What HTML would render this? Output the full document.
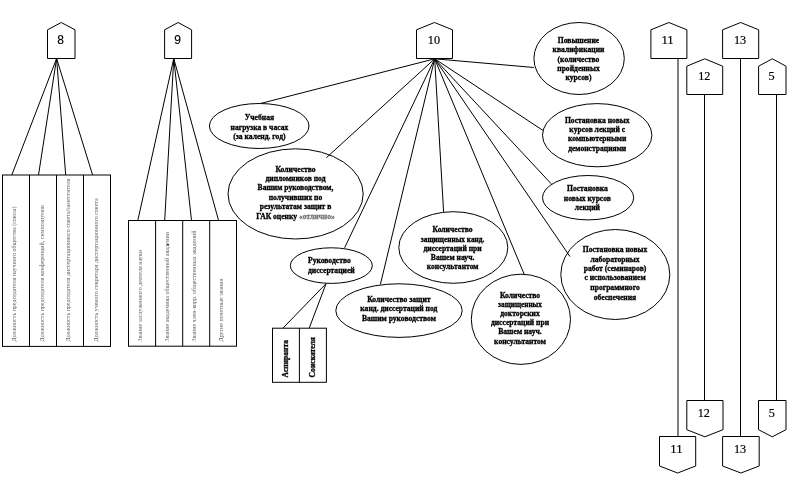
<!DOCTYPE html>
<html><head><meta charset="utf-8"><title>diagram</title>
<style>
html,body{margin:0;padding:0;background:#fff;}
body{width:791px;height:479px;overflow:hidden;}
svg{display:block;will-change:transform;}
.s{fill:#fff;stroke:#000;stroke-width:1;}
.l{stroke:#000;stroke-width:1;fill:none;}
.b{font-family:"Liberation Serif",serif;font-weight:bold;font-size:7.6px;fill:#000;stroke:#000;stroke-width:0.3px;text-anchor:middle;}
.bl{font-family:"Liberation Serif",serif;font-weight:bold;font-size:7.6px;fill:#000;stroke:#000;stroke-width:0.3px;text-anchor:start;}
.g{font-family:"Liberation Serif",serif;font-size:6px;fill:#666;}
.n{font-family:"Liberation Serif",serif;font-size:13.5px;fill:#000;stroke:#000;stroke-width:0.2px;text-anchor:middle;}
.a{font-family:"Liberation Sans",sans-serif;font-size:12px;fill:#000;stroke:#000;stroke-width:0.15px;text-anchor:middle;}
</style></head><body>
<svg width="791" height="479" viewBox="0 0 791 479">
<rect x="0" y="0" width="791" height="479" fill="#fff"/>
<ellipse class="s" cx="259.2" cy="126" rx="49.8" ry="22.5"/>
<ellipse class="s" cx="295.6" cy="193.9" rx="67.6" ry="45.1"/>
<ellipse class="s" cx="331.3" cy="265.6" rx="41" ry="17.8"/>
<ellipse class="s" cx="399" cy="310.6" rx="63.2" ry="26.8"/>
<ellipse class="s" cx="453.3" cy="247.5" rx="54.5" ry="35.8"/>
<ellipse class="s" cx="520.9" cy="319.3" rx="49.6" ry="45.1"/>
<ellipse class="s" cx="579.1" cy="58.5" rx="45.2" ry="36"/>
<ellipse class="s" cx="597.2" cy="135.2" rx="54.7" ry="31.6"/>
<ellipse class="s" cx="588.1" cy="197.7" rx="45.6" ry="22.2"/>
<ellipse class="s" cx="615.3" cy="274.5" rx="54.5" ry="45"/>
<line class="l" x1="56.6" y1="58.5" x2="11.8" y2="175"/>
<line class="l" x1="56.6" y1="58.5" x2="38.5" y2="175"/>
<line class="l" x1="56.6" y1="58.5" x2="65.7" y2="175"/>
<line class="l" x1="56.6" y1="58.5" x2="92.6" y2="175"/>
<line class="l" x1="173.75" y1="58.5" x2="137.8" y2="220.5"/>
<line class="l" x1="173.75" y1="58.5" x2="164.7" y2="220.5"/>
<line class="l" x1="173.75" y1="58.5" x2="191.5" y2="220.5"/>
<line class="l" x1="173.75" y1="58.5" x2="218.6" y2="220.5"/>
<line class="l" x1="434.7" y1="58.8" x2="260.5" y2="103.5"/>
<line class="l" x1="434.7" y1="58.8" x2="326.3" y2="157.8"/>
<line class="l" x1="434.7" y1="58.8" x2="344.6" y2="247.8"/>
<line class="l" x1="434.7" y1="58.8" x2="380.4" y2="284.4"/>
<line class="l" x1="434.7" y1="58.8" x2="443.6" y2="211.9"/>
<line class="l" x1="434.7" y1="58.8" x2="524.3" y2="274.6"/>
<line class="l" x1="434.7" y1="58.8" x2="533.9" y2="67.5"/>
<line class="l" x1="434.7" y1="58.8" x2="542.9" y2="130.4"/>
<line class="l" x1="434.7" y1="58.8" x2="551.2" y2="183.8"/>
<line class="l" x1="434.7" y1="58.8" x2="570" y2="256.6"/>
<line class="l" x1="326.1" y1="283.6" x2="282.9" y2="328.2"/>
<line class="l" x1="326.1" y1="283.6" x2="309.2" y2="328.2"/>
<line class="l" x1="678" y1="58.5" x2="678" y2="436.5"/>
<line class="l" x1="704.5" y1="94.5" x2="704.5" y2="400.5"/>
<line class="l" x1="740.5" y1="58.5" x2="740.5" y2="436.5"/>
<line class="l" x1="776.5" y1="94.5" x2="776.5" y2="400.5"/>
<polygon class="s" points="47.5,58.5 47.5,29.8 61.25,22.5 75,29.8 75,58.5"/>
<polygon class="s" points="164.6,58.5 164.6,29.8 178.1,22.5 191.6,29.8 191.6,58.5"/>
<polygon class="s" points="416.5,58.5 416.5,29.8 434.5,22.5 452.5,29.8 452.5,58.5"/>
<polygon class="s" points="650.9,58.5 650.9,29.8 668.9,22.5 686.9,29.8 686.9,58.5"/>
<polygon class="s" points="722.6,58.5 722.6,29.8 740.65,22.5 758.7,29.8 758.7,58.5"/>
<polygon class="s" points="686.8,94.5 686.8,66.2 704.75,58.8 722.7,66.2 722.7,94.5"/>
<polygon class="s" points="758.6,94.5 758.6,66.2 772.3,58.8 786,66.2 786,94.5"/>
<polygon class="s" points="686.8,400.5 723,400.5 723,429.7 704.9,436.8 686.8,429.7"/>
<polygon class="s" points="758.5,400.5 786,400.5 786,429.7 772.25,436.8 758.5,429.7"/>
<polygon class="s" points="659.5,436.5 695.7,436.5 695.7,466 677.6,473 659.5,466"/>
<polygon class="s" points="722.6,436.5 759.2,436.5 759.2,466 740.9,473 722.6,466"/>
<text class="a" x="60.6" y="43.8">8</text>
<text class="a" x="177.6" y="43.8">9</text>
<text class="n" x="433.9" y="43.8" textLength="12.2" lengthAdjust="spacingAndGlyphs">10</text>
<text class="n" x="667.5" y="43.8" textLength="12.2" lengthAdjust="spacingAndGlyphs">11</text>
<text class="n" x="740" y="43.8" textLength="12.2" lengthAdjust="spacingAndGlyphs">13</text>
<text class="n" x="704.3" y="79.7" textLength="12.2" lengthAdjust="spacingAndGlyphs">12</text>
<text class="n" x="771.6" y="79.7" textLength="6.1" lengthAdjust="spacingAndGlyphs">5</text>
<text class="n" x="703.8" y="416.8" textLength="12.2" lengthAdjust="spacingAndGlyphs">12</text>
<text class="n" x="771.7" y="416.8" textLength="6.1" lengthAdjust="spacingAndGlyphs">5</text>
<text class="n" x="676.4" y="452.8" textLength="12.2" lengthAdjust="spacingAndGlyphs">11</text>
<text class="n" x="740.1" y="452.8" textLength="12.2" lengthAdjust="spacingAndGlyphs">13</text>
<rect class="s" x="2.5" y="175" width="108.0" height="171.4"/>
<line class="l" x1="29.5" y1="175" x2="29.5" y2="346.4"/>
<line class="l" x1="56.5" y1="175" x2="56.5" y2="346.4"/>
<line class="l" x1="83.5" y1="175" x2="83.5" y2="346.4"/>
<rect class="s" x="128.5" y="220.5" width="108.0" height="125.7"/>
<line class="l" x1="155.6" y1="220.5" x2="155.6" y2="346.2"/>
<line class="l" x1="182.7" y1="220.5" x2="182.7" y2="346.2"/>
<line class="l" x1="209.7" y1="220.5" x2="209.7" y2="346.2"/>
<rect class="s" x="272.5" y="328.2" width="53.9" height="54.1"/>
<line class="l" x1="299.4" y1="328.2" x2="299.4" y2="382.3"/>
<text class="g" transform="translate(16.4,341.4) rotate(-90)">Должность председателя научного общества (союза)</text>
<text class="g" transform="translate(43.5,341.4) rotate(-90)">Должность председателя конференций, симпозиумов</text>
<text class="g" transform="translate(70.3,341.4) rotate(-90)">Должность председателя диссертационного совета/заместителя</text>
<text class="g" transform="translate(97.6,341.4) rotate(-90)">Должность ученого секретаря диссертационного совета</text>
<text class="g" transform="translate(142.1,341.4) rotate(-90)">Звание заслуженного деятеля науки</text>
<text class="g" transform="translate(169.1,341.4) rotate(-90)">Звание академика общественной академии</text>
<text class="g" transform="translate(196.4,341.4) rotate(-90)">Звание член-корр. общественных академий</text>
<text class="g" transform="translate(223.2,341.4) rotate(-90)">Другие почетные звания</text>
<rect x="167.3" y="243.9" width="1.3" height="1.3" fill="#000"/>
<text class="bl" transform="translate(288.3,377.4) rotate(-90)">Аспиранта</text>
<text class="bl" transform="translate(315.1,377.4) rotate(-90)">Соискателя</text>
<text class="b" x="259.4" y="120.0">Учебная</text>
<text class="b" x="259.4" y="129.6">нагрузка в часах</text>
<text class="b" x="259.4" y="138.6">(за календ. год)</text>
<text class="b" x="295.5" y="172.1">Количество</text>
<text class="b" x="295.5" y="181.1">дипломников под</text>
<text class="b" x="295.5" y="190.1">Вашим руководством,</text>
<text class="b" x="295.5" y="199.6">получивших по</text>
<text class="b" x="295.5" y="209.0">результатам защит в</text>
<text class="b" x="295.5" y="218.7">ГАК оценку <tspan fill="#777" stroke="#777">«отлично»</tspan></text>
<text class="bl" x="308" y="262.8">Руководство</text>
<text class="bl" x="308" y="272.5">диссертацией</text>
<text class="b" x="398.9" y="301.9">Количество защит</text>
<text class="b" x="398.9" y="311.2">канд. диссертаций под</text>
<text class="b" x="398.9" y="320.7">Вашим руководством</text>
<text class="b" x="452.6" y="231.9">Количество</text>
<text class="b" x="452.6" y="241.5" textLength="63.5" lengthAdjust="spacingAndGlyphs">защищенных канд.</text>
<text class="b" x="452.6" y="250.8">диссертаций при</text>
<text class="b" x="452.6" y="259.8">Вашем науч.</text>
<text class="b" x="452.6" y="269.1">консультантом</text>
<text class="b" x="520" y="297.8">Количество</text>
<text class="b" x="520" y="306.8" textLength="43.8" lengthAdjust="spacingAndGlyphs">защищенных</text>
<text class="b" x="520" y="315.7">докторских</text>
<text class="b" x="520" y="324.8">диссертаций при</text>
<text class="b" x="520" y="334.4">Вашем науч.</text>
<text class="b" x="520" y="344.0">консультантом</text>
<text class="b" x="578.5" y="42.5">Повышение</text>
<text class="b" x="578.5" y="52.0">квалификации</text>
<text class="b" x="578.5" y="61.7">(количество</text>
<text class="b" x="578.5" y="71.0">пройденных</text>
<text class="b" x="578.5" y="80.0">курсов)</text>
<text class="b" x="597.2" y="122.9">Постановка новых</text>
<text class="b" x="597.2" y="132.0">курсов лекций с</text>
<text class="b" x="597.2" y="141.2">компьютерными</text>
<text class="b" x="597.2" y="150.6">демонстрациями</text>
<text class="b" x="587.4" y="191.4">Постановка</text>
<text class="b" x="587.4" y="200.7">новых курсов</text>
<text class="b" x="587.4" y="209.6">лекций</text>
<text class="b" x="615" y="252.2">Постановка новых</text>
<text class="b" x="615" y="261.6">лабораторных</text>
<text class="b" x="615" y="271.0">работ (семинаров)</text>
<text class="b" x="615" y="280.4">с использованием</text>
<text class="b" x="615" y="289.9">программного</text>
<text class="b" x="615" y="299.7">обеспечения</text>
</svg>
</body></html>
